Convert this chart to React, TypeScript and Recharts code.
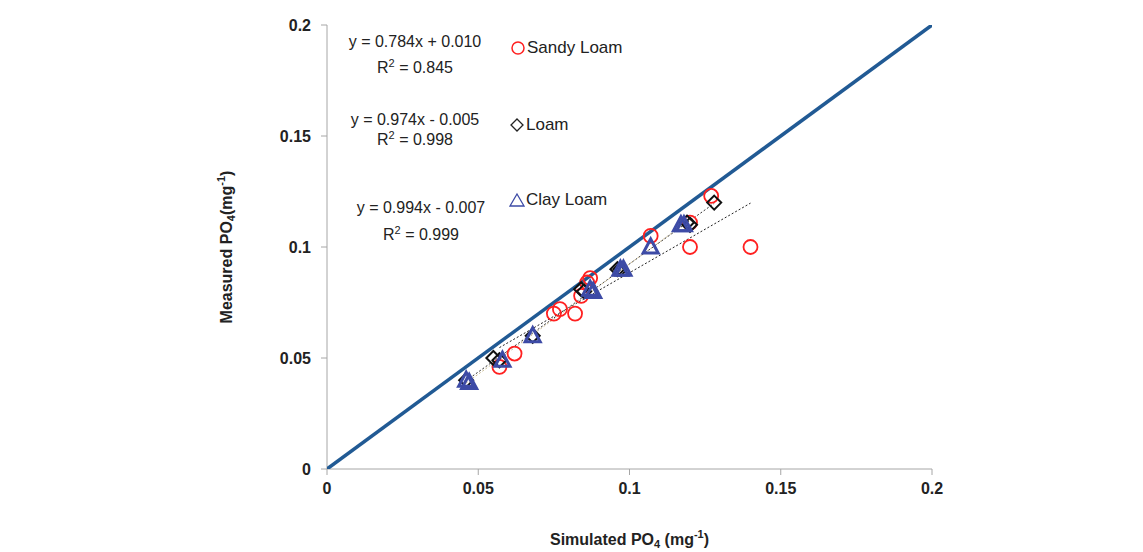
import React from "react";
import {
  ComposedChart,
  Scatter,
  XAxis,
  YAxis,
} from "recharts";

const FONT = "'Liberation Sans Narrow', 'Liberation Sans', sans-serif";

const xTicks = [0, 0.05, 0.1, 0.15, 0.2];
const yTicks = [0, 0.05, 0.1, 0.15, 0.2];

const sandyX = [0.127, 0.107, 0.12, 0.12, 0.14, 0.087, 0.086, 0.084, 0.075, 0.077, 0.082, 0.062, 0.057];
const sandyY = [0.123, 0.105, 0.111, 0.1, 0.1, 0.086, 0.084, 0.078, 0.07, 0.072, 0.07, 0.052, 0.046];

const loamX = [0.128, 0.12, 0.119, 0.097, 0.096, 0.085, 0.084, 0.068, 0.055, 0.057, 0.046];
const loamY = [0.12, 0.11, 0.111, 0.09, 0.09, 0.08, 0.081, 0.06, 0.05, 0.049, 0.04];

const clayX = [0.117, 0.118, 0.107, 0.097, 0.098, 0.087, 0.088, 0.068, 0.058, 0.047, 0.046];
const clayY = [0.11, 0.11, 0.1, 0.09, 0.09, 0.081, 0.08, 0.06, 0.049, 0.039, 0.04];

// fitted lines shown in the chart: [slope, intercept, xFrom, xTo]
const sandyFit = [0.784, 0.01, 0.057, 0.14];
const loamFit = [0.974, -0.005, 0.046, 0.128];
const clayFit = [0.994, -0.007, 0.046, 0.117];

const oneToOne = [0, 0.2];

const toPts = (xs: number[], ys: number[]) => xs.map((x, i) => ({ x, y: ys[i] }));
const fitPts = (f: number[]) => [
  { x: f[2], y: f[0] * f[2] + f[1] },
  { x: f[3], y: f[0] * f[3] + f[1] },
];

const RED = "#ff2020";
const BLUE = "#3d4ba6";
const LINE_BLUE = "#215a94";

const Circle = (p: any) => (
  <circle cx={p.cx} cy={p.cy} r={7} fill="none" stroke={RED} strokeWidth={1.8} />
);
const Diamond = (p: any) => (
  <path
    d={`M${p.cx},${p.cy - 7}L${p.cx + 7},${p.cy}L${p.cx},${p.cy + 7}L${p.cx - 7},${p.cy}Z`}
    fill="none"
    stroke="#111"
    strokeWidth={2}
  />
);
const Triangle = (p: any) => (
  <path
    d={`M${p.cx},${p.cy - 8}L${p.cx + 7.5},${p.cy + 6}L${p.cx - 7.5},${p.cy + 6}Z`}
    fill="none"
    stroke={BLUE}
    strokeWidth={3}
  />
);
const NoDot = () => <g />;

const fmt = (v: number) => (v === 0 ? "0" : String(v));

const XTitle = (props: any) => {
  const vb = props.viewBox;
  return (
    <text
      x={vb.x + vb.width / 2}
      y={541}
      textAnchor="middle"
      dominantBaseline="middle"
      fontFamily={FONT}
      fontWeight="bold"
      fontSize={16}
      fill="#222"
    >
      Simulated PO
      <tspan fontSize={11} dy={4}>4</tspan>
      <tspan dy={-4}> (mg</tspan>
      <tspan fontSize={11} dy={-6}>-1</tspan>
      <tspan dy={6}>)</tspan>
    </text>
  );
};

const YTitle = (props: any) => {
  const vb = props.viewBox;
  const cy = vb.y + vb.height / 2;
  return (
    <text
      x={228}
      y={cy}
      transform={`rotate(-90 228 ${cy})`}
      textAnchor="middle"
      dominantBaseline="middle"
      fontFamily={FONT}
      fontWeight="bold"
      fontSize={16}
      fill="#222"
    >
      Measured PO
      <tspan fontSize={11} dy={4}>4</tspan>
      <tspan dy={-4}>(mg</tspan>
      <tspan fontSize={11} dy={-6}>-1</tspan>
      <tspan dy={6}>)</tspan>
    </text>
  );
};

const eqStyle: React.CSSProperties = {
  position: "absolute",
  width: 180,
  textAlign: "center",
  fontFamily: FONT,
  fontSize: 16,
  color: "#222",
  lineHeight: "18px",
  whiteSpace: "nowrap",
};
const legStyle: React.CSSProperties = {
  position: "absolute",
  fontFamily: FONT,
  fontSize: 17,
  color: "#222",
  lineHeight: "20px",
  whiteSpace: "nowrap",
  display: "flex",
  alignItems: "center",
};
const supStyle: React.CSSProperties = { fontSize: 11, lineHeight: 0, verticalAlign: "6px" };

const Annotations = () => (
  <>
    <div style={{ ...eqStyle, left: 325, top: 33 }}>y = 0.784x + 0.010</div>
    <div style={{ ...eqStyle, left: 325, top: 59 }}>
      R<span style={supStyle}>2</span> = 0.845
    </div>
    <div style={{ ...eqStyle, left: 325, top: 111 }}>y = 0.974x - 0.005</div>
    <div style={{ ...eqStyle, left: 325, top: 131 }}>
      R<span style={supStyle}>2</span> = 0.998
    </div>
    <div style={{ ...eqStyle, left: 331, top: 199 }}>y = 0.994x - 0.007</div>
    <div style={{ ...eqStyle, left: 331, top: 226 }}>
      R<span style={supStyle}>2</span> = 0.999
    </div>
    <div style={{ ...legStyle, left: 510, top: 38 }}>
      <svg width={16} height={16}>
        <circle cx={8} cy={8} r={6} fill="none" stroke={RED} strokeWidth={1.5} />
      </svg>
      <span style={{ marginLeft: 1 }}>Sandy Loam</span>
    </div>
    <div style={{ ...legStyle, left: 509, top: 115 }}>
      <svg width={16} height={16}>
        <path d="M8,2L14,8L8,14L2,8Z" fill="none" stroke="#222" strokeWidth={1.3} />
      </svg>
      <span style={{ marginLeft: 1 }}>Loam</span>
    </div>
    <div style={{ ...legStyle, left: 509, top: 190 }}>
      <svg width={16} height={16}>
        <path d="M8,2L15,14L1,14Z" fill="none" stroke={BLUE} strokeWidth={1.3} />
      </svg>
      <span style={{ marginLeft: 1 }}>Clay Loam</span>
    </div>
  </>
);

export default function App() {
  const tick = { fontFamily: FONT, fontWeight: "bold", fontSize: 16, fill: "#222" };
  return (
    <div style={{ position: "absolute", left: 0, top: 0, width: 1143, height: 552, background: "#fff" }}>
      <ComposedChart
        width={1143}
        height={552}
        margin={{ top: 25, right: 211, bottom: 23, left: 247 }}
      >
        <XAxis
          type="number"
          dataKey="x"
          domain={[0, 0.2]}
          ticks={xTicks}
          tickFormatter={fmt}
          height={60}
          stroke="#a6a6a6"
          tickSize={6}
          tickMargin={8}
          tick={tick}
          label={{ content: XTitle }}
          allowDataOverflow
        />
        <YAxis
          type="number"
          dataKey="y"
          domain={[0, 0.2]}
          ticks={yTicks}
          tickFormatter={fmt}
          width={80}
          stroke="#a6a6a6"
          tickSize={6}
          tickMargin={10}
          tick={tick}
          label={{ content: YTitle }}
          allowDataOverflow
        />
        <Scatter
          data={toPts(oneToOne, oneToOne)}
          line={{ stroke: LINE_BLUE, strokeWidth: 3.5 }}
          shape={NoDot}
          isAnimationActive={false}
        />
        <Scatter
          data={fitPts(sandyFit)}
          line={{ stroke: "#222", strokeWidth: 1, strokeDasharray: "2 2" }}
          shape={NoDot}
          isAnimationActive={false}
        />
        <Scatter
          data={fitPts(loamFit)}
          line={{ stroke: "#333", strokeWidth: 1, strokeDasharray: "2 2" }}
          shape={NoDot}
          isAnimationActive={false}
        />
        <Scatter
          data={fitPts(clayFit)}
          line={{ stroke: "#c9b98f", strokeWidth: 1, strokeDasharray: "2 2" }}
          shape={NoDot}
          isAnimationActive={false}
        />
        <Scatter data={toPts(sandyX, sandyY)} shape={Circle} isAnimationActive={false} />
        <Scatter data={toPts(loamX, loamY)} shape={Diamond} isAnimationActive={false} />
        <Scatter data={toPts(clayX, clayY)} shape={Triangle} isAnimationActive={false} />
      </ComposedChart>
      <Annotations />
    </div>
  );
}
